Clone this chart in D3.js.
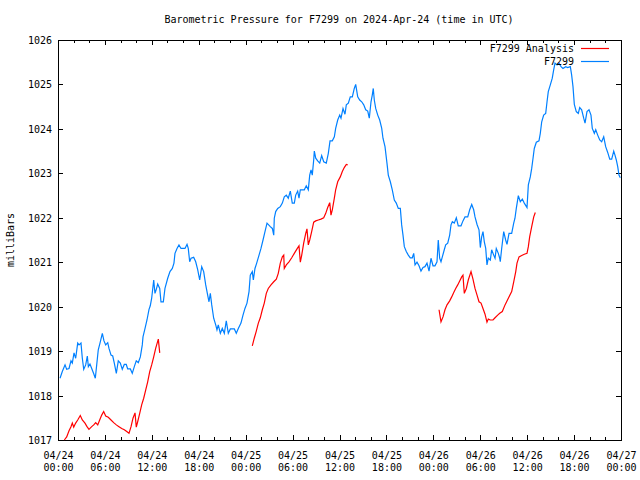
<!DOCTYPE html>
<html>
<head>
<meta charset="utf-8">
<script src="https://cdn.jsdelivr.net/npm/d3@7"></script>
<style>
  html, body { margin: 0; padding: 0; background: #fff; }
  svg { display: block; }
  text { font-family: "DejaVu Sans Mono", "Liberation Mono", monospace; font-size: 10px; fill: #000; }
</style>
</head>
<body>
<div id="chart"></div>
<script>
// ---------------- DATA ----------------
const chartTitle = "Barometric Pressure for F7299 on 2024-Apr-24 (time in UTC)";
const yAxisLabel = "milliBars";
const seriesNames = ["F7299 Analysis", "F7299"];
const startTime = "2024-04-24T00:00:00Z";
const endTime = "2024-04-27T00:00:00Z";
const yTickValues = [1017, 1018, 1019, 1020, 1021, 1022, 1023, 1024, 1025, 1026];

// Station observations: hours after 04/24 00:00 UTC, pressure (mb)
const stationHours = [
  0.26,0.55,0.90,1.11,1.41,1.66,1.83,2.05,2.26,2.52,2.69,2.94,3.11,3.29,3.54,3.75,3.88,4.09,4.31,4.57,
  4.77,4.95,5.15,5.37,5.67,5.88,6.10,6.36,6.52,6.78,7.00,7.20,7.46,7.71,7.97,8.22,8.48,8.73,8.91,9.25,
  9.50,9.76,10.01,10.27,10.53,10.78,10.87,11.13,11.38,11.64,11.80,11.98,12.24,12.40,12.57,12.75,13.01,13.17,13.47,13.68,
  14.03,14.32,14.62,14.83,14.96,15.22,15.47,15.73,16.24,16.50,16.66,16.84,17.01,17.35,17.61,17.87,18.12,18.38,18.63,18.89,
  19.14,19.31,19.48,19.66,19.91,20.17,20.33,20.50,20.76,21.01,21.27,21.52,21.78,22.04,22.55,22.80,23.06,23.40,23.66,23.91,
  24.17,24.43,24.59,24.85,24.98,25.19,25.41,25.71,25.96,26.22,26.47,26.73,27.15,27.41,27.59,27.66,27.84,28.10,28.43,28.69,
  28.94,29.20,29.45,29.71,29.96,30.22,30.40,30.65,30.82,30.99,31.50,31.75,32.01,32.19,32.36,32.52,32.70,32.78,32.96,33.21,
  33.47,33.72,33.98,34.31,34.57,34.79,35.08,35.34,35.51,35.77,36.03,36.19,36.45,36.70,36.87,37.13,37.38,37.64,37.89,38.07,
  38.33,38.58,38.84,39.10,39.35,39.61,39.81,40.03,40.19,40.32,40.45,40.63,40.89,41.14,41.40,41.56,41.82,42.07,42.24,42.50,
  42.75,43.01,43.26,43.52,43.78,43.95,44.12,44.29,44.54,44.80,45.05,45.31,45.49,45.66,45.91,46.17,46.42,46.68,46.93,47.19,
  47.45,47.70,47.96,48.21,48.47,48.63,48.81,48.98,49.15,49.40,49.58,49.84,50.09,50.26,50.43,50.68,50.94,51.19,51.54,51.79,
  52.05,52.40,52.65,52.91,53.16,53.33,53.59,53.84,54.01,54.18,54.35,54.52,54.70,54.86,55.03,55.29,55.46,55.72,55.89,56.05,
  56.31,56.49,56.56,56.74,57.00,57.25,57.42,57.68,58.02,58.28,58.44,58.61,58.87,59.12,59.38,59.63,59.98,60.15,60.40,60.58,
  60.75,60.91,61.17,61.51,61.68,61.86,62.11,62.37,62.54,62.70,62.96,63.21,63.39,63.56,63.82,64.07,64.33,64.58,64.93,65.18,
  65.52,65.69,65.86,66.03,66.28,66.54,66.72,66.97,67.23,67.40,67.65,67.91,68.16,68.33,68.59,68.77,69.02,69.28,69.53,69.79,
  70.04,70.30,70.56,70.81,71.07,71.23,71.40,71.58,71.74,71.91
];
const stationMb = [
  1018.39,1018.54,1018.69,1018.59,1018.61,1018.78,1018.73,1018.96,1018.84,1019.18,1019.14,1019.18,1018.84,1018.59,1018.69,1018.89,1018.65,1018.71,1018.61,1018.49,
  1018.39,1018.69,1019.03,1019.18,1019.40,1019.23,1019.14,1019.19,1019.06,1018.91,1018.89,1018.73,1018.50,1018.78,1018.73,1018.59,1018.70,1018.70,1018.60,1018.60,
  1018.50,1018.65,1018.78,1018.74,1018.87,1019.14,1019.32,1019.51,1019.70,1019.94,1020.02,1020.19,1020.60,1020.30,1020.39,1020.51,1020.41,1020.11,1020.11,1020.41,
  1020.64,1020.79,1020.86,1020.98,1021.20,1021.31,1021.39,1021.31,1021.31,1021.40,1021.31,1021.01,1021.09,1021.11,1021.01,1020.83,1020.60,1020.90,1020.79,1020.49,
  1020.26,1020.11,1020.30,1020.04,1019.74,1019.59,1019.48,1019.59,1019.40,1019.51,1019.40,1019.68,1019.40,1019.50,1019.50,1019.40,1019.51,1019.63,1019.81,1019.96,
  1020.08,1020.34,1020.71,1020.79,1020.60,1020.86,1020.98,1021.16,1021.31,1021.50,1021.69,1021.88,1021.80,1021.76,1021.61,1021.99,1022.14,1022.21,1022.25,1022.33,
  1022.47,1022.51,1022.44,1022.60,1022.33,1022.33,1022.51,1022.60,1022.44,1022.63,1022.63,1022.72,1022.63,1022.96,1023.08,1022.96,1023.30,1023.50,1023.34,1023.28,
  1023.23,1023.40,1023.26,1023.23,1023.45,1023.73,1023.73,1023.82,1024.01,1024.20,1024.31,1024.24,1024.46,1024.33,1024.54,1024.58,1024.72,1024.72,1024.91,1025.00,
  1024.72,1024.65,1024.61,1024.54,1024.43,1024.40,1024.24,1024.61,1024.76,1024.91,1024.65,1024.46,1024.31,1024.20,1024.01,1023.79,1023.60,1023.23,1022.96,1022.81,
  1022.63,1022.40,1022.33,1022.21,1022.21,1021.84,1021.61,1021.35,1021.24,1021.16,1021.10,1021.10,1021.20,1020.94,1021.00,1020.92,1020.80,1020.88,1020.90,1020.98,
  1020.80,1021.09,1020.92,1020.92,1021.01,1021.50,1021.09,1021.01,1021.12,1021.28,1021.39,1021.43,1021.61,1021.84,1021.91,1021.88,1022.00,1021.82,1021.82,1021.93,
  1022.02,1022.02,1022.18,1022.30,1022.18,1022.02,1021.85,1021.73,1021.33,1021.57,1021.69,1021.46,1021.31,1020.94,1021.09,1021.05,1021.28,1021.16,1021.09,1021.31,
  1021.20,1021.09,1021.01,1021.31,1021.69,1021.50,1021.40,1021.65,1021.65,1021.88,1021.99,1022.21,1022.50,1022.36,1022.42,1022.33,1022.23,1022.74,1022.92,1023.11,
  1023.34,1023.56,1023.70,1023.73,1023.90,1024.16,1024.31,1024.35,1024.61,1024.84,1024.99,1025.14,1025.33,1025.48,1025.44,1025.48,1025.40,1025.36,1025.40,1025.38,
  1025.40,1025.21,1024.95,1024.55,1024.39,1024.35,1024.48,1024.43,1024.24,1024.13,1024.39,1024.43,1024.31,1024.01,1023.90,1023.98,1023.86,1023.75,1023.71,1023.82,
  1023.60,1023.47,1023.32,1023.32,1023.50,1023.41,1023.30,1023.15,1022.96,1022.90
];

// Analysis: three separate runs, hours after 04/24 00:00 UTC and pressure (mb)
const analysisHours1 = [0.81,1.11,1.41,1.66,1.83,2.01,2.26,2.52,2.85,3.11,3.45,3.71,3.96,4.31,4.57,4.82,5.08,5.33,5.59,5.84,
  6.10,6.43,6.78,7.12,7.46,7.80,8.15,8.48,8.79,9.08,9.34,9.59,9.85,10.01,10.19,10.45,10.70,10.96,11.22,11.47,11.73,11.98,12.24,12.49,12.83,13.01];
const analysisMb1 = [1017.00,1017.07,1017.21,1017.30,1017.38,1017.29,1017.38,1017.45,1017.55,1017.45,1017.38,1017.30,1017.24,1017.30,1017.34,1017.39,1017.34,1017.45,1017.56,1017.64,
  1017.54,1017.51,1017.45,1017.39,1017.34,1017.30,1017.26,1017.23,1017.19,1017.15,1017.30,1017.49,1017.61,1017.29,1017.41,1017.60,1017.79,1017.94,1018.13,1018.31,1018.54,1018.69,1018.87,1019.06,1019.27,1018.96];
const analysisHours2 = [24.85,25.10,25.36,25.62,25.87,26.13,26.38,26.64,26.89,27.24,27.59,27.92,28.17,28.43,28.69,28.87,28.94,29.20,29.54,29.89,
  30.22,30.57,30.82,30.99,31.17,31.42,31.68,31.84,32.01,32.19,32.44,32.70,32.96,33.29,33.63,33.98,34.24,34.49,34.75,34.91,35.08,35.34,35.51,35.77,36.10,36.36,36.61,36.87,37.05];
const analysisMb2 = [1019.12,1019.29,1019.45,1019.63,1019.75,1019.93,1020.08,1020.30,1020.41,1020.49,1020.56,1020.62,1020.75,1020.98,1021.12,1021.16,1020.86,1020.94,1021.01,1021.10,
  1021.20,1021.30,1021.37,1021.00,1021.16,1021.43,1021.65,1021.75,1021.39,1021.50,1021.69,1021.90,1021.93,1021.95,1021.97,1022.00,1022.10,1022.23,1022.34,1022.06,1022.18,1022.44,1022.63,1022.81,1022.92,1023.04,1023.13,1023.20,1023.19];
const analysisHours3 = [48.73,48.98,49.24,49.49,49.75,50.09,50.35,50.61,50.86,51.12,51.37,51.63,51.79,51.96,52.22,52.47,52.82,53.07,53.33,53.59,
  53.84,54.10,54.35,54.61,54.86,55.03,55.29,55.63,55.89,56.23,56.49,56.82,57.17,57.59,58.02,58.28,58.54,58.70,58.96,59.30,59.63,59.98,60.15,60.32,60.58,60.84,61.04];
const analysisMb3 = [1019.93,1019.66,1019.77,1019.93,1020.04,1020.13,1020.22,1020.32,1020.41,1020.49,1020.58,1020.67,1020.71,1020.30,1020.41,1020.60,1020.79,1020.62,1020.41,1020.26,
  1020.11,1020.08,1019.96,1019.83,1019.65,1019.72,1019.70,1019.70,1019.75,1019.81,1019.85,1019.89,1020.04,1020.19,1020.34,1020.56,1020.79,1020.98,1021.12,1021.15,1021.18,1021.20,1021.35,1021.57,1021.80,1022.02,1022.12];

// ---------------- CHART ----------------
(function () {
const W = 640, H = 480;
const margin = { left: 58, right: 19, top: 40, bottom: 40 };
const colors = { analysis: "#ff0000", station: "#0080ff" };

const t0 = new Date(startTime), t1 = new Date(endTime);
const toDate = h => new Date(t0.getTime() + h * 3600e3);

const x = d3.scaleUtc().domain([t0, t1]).range([margin.left, W - margin.right]);
const y = d3.scaleLinear().domain([d3.min(yTickValues), d3.max(yTickValues)]).range([H - margin.bottom, margin.top]);

const svg = d3.select("#chart").append("svg").attr("width", W).attr("height", H);

const majorTicks = d3.utcHour.every(6).range(t0, new Date(t1.getTime() + 1));
const minorTicks = d3.utcHour.every(2).range(t0, new Date(t1.getTime() + 1));

const fmtDate = d3.utcFormat("%m/%d"), fmtTime = d3.utcFormat("%H:%M");

const axes = svg.append("g").attr("shape-rendering", "crispEdges");
// bottom axis
const axB = axes.append("g").attr("transform", `translate(0,${H - margin.bottom})`)
  .call(d3.axisBottom(x).tickValues(minorTicks).tickSize(-3).tickFormat(""));
axB.select(".domain").remove();
const axBMajor = axes.append("g").attr("transform", `translate(0,${H - margin.bottom})`)
  .call(d3.axisBottom(x).tickValues(majorTicks).tickSize(-5).tickFormat(""));
axBMajor.select(".domain").remove();
axBMajor.selectAll(".tick").each(function (d) {
  const t = d3.select(this).append("text").attr("y", 19).attr("text-anchor", "middle");
  t.append("tspan").attr("x", 0).text(fmtDate(d));
  t.append("tspan").attr("x", 0).attr("dy", 12).text(fmtTime(d));
});
// top axis (mirror)
const axT = axes.append("g").attr("transform", `translate(0,${margin.top})`)
  .call(d3.axisTop(x).tickValues(minorTicks).tickSize(-3).tickFormat(""));
axT.select(".domain").remove();
const axTMajor = axes.append("g").attr("transform", `translate(0,${margin.top})`)
  .call(d3.axisTop(x).tickValues(majorTicks).tickSize(-5).tickFormat(""));
axTMajor.select(".domain").remove();
// left axis
const axL = axes.append("g").attr("transform", `translate(${margin.left},0)`)
  .call(d3.axisLeft(y).tickValues(yTickValues).tickSize(-5).tickFormat(d3.format("d")));
axL.select(".domain").remove();
axL.selectAll("text").attr("dy", "0.35em").attr("x", -6).attr("text-anchor", "end");
// right axis
const axR = axes.append("g").attr("transform", `translate(${W - margin.right},0)`)
  .call(d3.axisRight(y).tickValues(yTickValues).tickSize(-5).tickFormat(""));
axR.select(".domain").remove();
axes.selectAll(".tick line").attr("stroke", "#000");
axes.selectAll(".tick text").attr("fill", "#000")
  .style("font-family", "'DejaVu Sans Mono', monospace").style("font-size", "10px");

// border
axes.append("rect")
  .attr("x", margin.left).attr("y", margin.top)
  .attr("width", W - margin.left - margin.right).attr("height", H - margin.top - margin.bottom)
  .attr("fill", "none").attr("stroke", "#000");

// lines
const line = d3.line().x(d => x(toDate(d[0]))).y(d => y(d[1]));
const zipPairs = (a, b) => a.map((v, i) => [v, b[i]]);

const plot = svg.append("g");
[[analysisHours1, analysisMb1], [analysisHours2, analysisMb2], [analysisHours3, analysisMb3]].forEach(([h, v]) => {
  plot.append("path").attr("d", line(zipPairs(h, v)))
    .attr("fill", "none").attr("stroke", colors.analysis).attr("stroke-width", 1.2);
});
plot.append("path").attr("d", line(zipPairs(stationHours, stationMb)))
  .attr("fill", "none").attr("stroke", colors.station).attr("stroke-width", 1.2);

// legend
const legend = svg.append("g");
const legendColors = [colors.analysis, colors.station];
seriesNames.forEach((name, i) => {
  const ly = 48 + i * 13;
  legend.append("text").attr("x", 574).attr("y", ly).attr("dy", "0.35em").attr("text-anchor", "end").text(name);
  legend.append("line").attr("x1", 581).attr("x2", 609).attr("y1", ly + 0.5).attr("y2", ly + 0.5)
    .attr("stroke", legendColors[i]).attr("stroke-width", 1.2);
});

// title
svg.append("text").attr("x", 339).attr("y", 19).attr("dy", "0.35em").attr("text-anchor", "middle").text(chartTitle);
// y label
svg.append("text").attr("transform", "translate(10,240) rotate(-90)").attr("dy", "0.35em").attr("text-anchor", "middle").text(yAxisLabel);
})();
</script>
</body>
</html>
